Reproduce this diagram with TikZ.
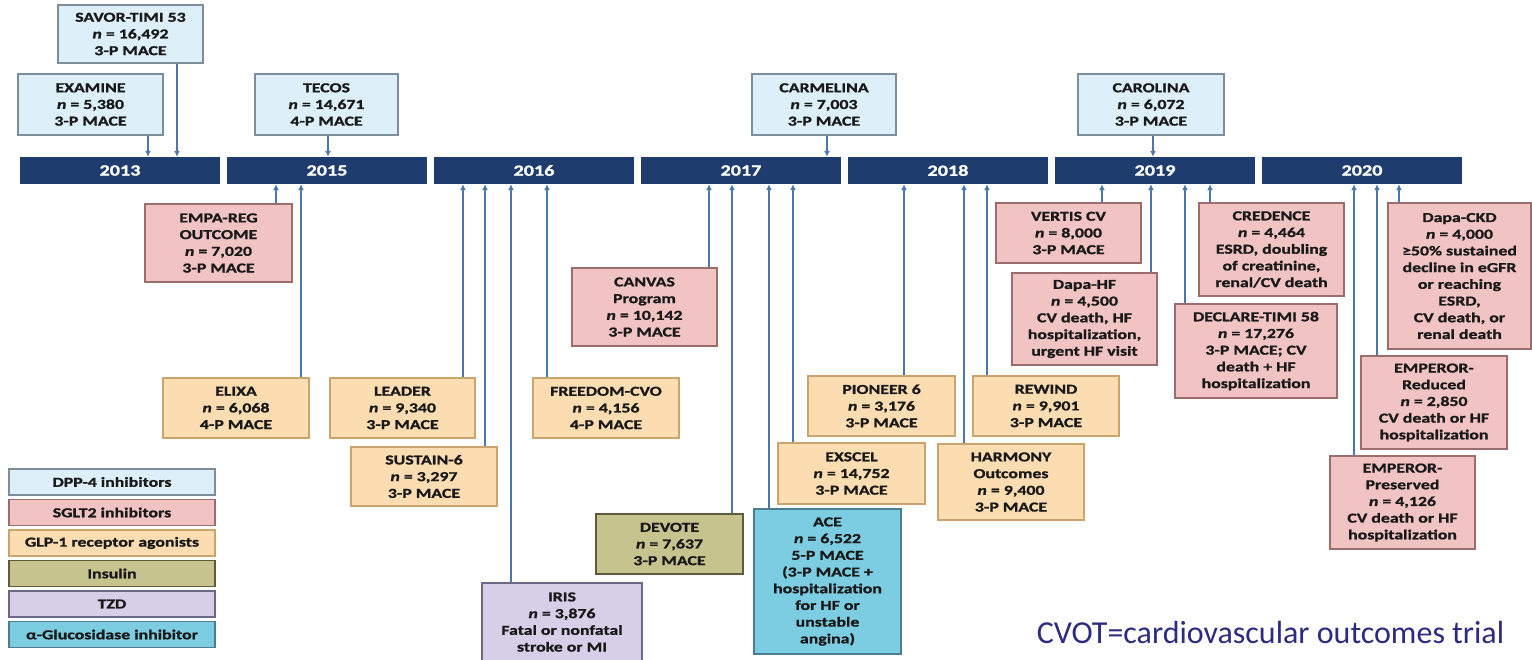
\documentclass[tikz,border=0pt]{standalone}
\usepackage{fontspec}
\setmainfont{Carlito}
\newfontfamily\boxfont{Carlito}[FakeStretch=1.3,FakeBold=1.2]
\usetikzlibrary{arrows.meta,positioning}
\definecolor{dppfill}{HTML}{DDEFF9}
\definecolor{dppline}{HTML}{7D8D9C}
\definecolor{sgltfill}{HTML}{F2C3C3}
\definecolor{sgltline}{HTML}{9A6E6E}
\definecolor{glpfill}{HTML}{FCDDB1}
\definecolor{glpline}{HTML}{C9A46E}
\definecolor{insfill}{HTML}{C7C38F}
\definecolor{insline}{HTML}{5C5B3D}
\definecolor{tzdfill}{HTML}{D7CEE8}
\definecolor{tzdline}{HTML}{6D6885}
\definecolor{agifill}{HTML}{7CCDE2}
\definecolor{agiline}{HTML}{4B7D8E}
\definecolor{navy}{HTML}{1E3C6E}
\definecolor{linkblue}{HTML}{4A78AE}
\definecolor{notetext}{HTML}{2C2B82}
\tikzset{
  trial/.style={rectangle,line width=1.4pt,align=center,inner sep=0pt,text=black!90,font=\boxfont\bfseries\fontsize{13.7}{16.7}\selectfont},
  dpp/.style={trial,draw=dppline,fill=dppfill},
  sglt/.style={trial,draw=sgltline,fill=sgltfill},
  glp/.style={trial,draw=glpline,fill=glpfill},
  insul/.style={trial,draw=insline,fill=insfill},
  tzd/.style={trial,draw=tzdline,fill=tzdfill},
  agi/.style={trial,draw=agiline,fill=agifill},
  yearbar/.style={rectangle,fill=navy,text=white,minimum width=200,minimum height=27,inner sep=0pt,font=\boxfont\bfseries\fontsize{15.5}{18}\selectfont},
  legendrow/.style={minimum width=206,minimum height=26},
  link/.style={-{Latex[length=6pt,width=6pt]},line width=1.6pt,linkblue},
  bignote/.style={font=\fontsize{32}{38}\selectfont,text=notetext,inner sep=0pt}
}
\begin{document}
\begin{tikzpicture}[x=1pt,y=-1pt]
  \useasboundingbox (0,0) rectangle (1532,659);
  % timeline
  \foreach \yr [count=\i from 0] in {2013,2015,2016,2017,2018,2019,2020}
    \node[yearbar] (y\yr) at (120+207*\i,170.5) {\yr};
  % DPP-4 trials above the line
  \node[dpp,minimum width=145,minimum height=58] (savor) at (130.5,34)
    {SAVOR-TIMI 53\\\textit{n} = 16,492\\3-P MACE};
  \node[dpp,minimum width=145,minimum height=61] (examine) at (90.5,104.5)
    {EXAMINE\\\textit{n} = 5,380\\3-P MACE};
  \node[dpp,minimum width=143,minimum height=61] (tecos) at (326.5,104.5)
    {TECOS\\\textit{n} = 14,671\\4-P MACE};
  \node[dpp,minimum width=144,minimum height=61] (carmelina) at (824,104.5)
    {CARMELINA\\\textit{n} = 7,003\\3-P MACE};
  \node[dpp,minimum width=146,minimum height=61] (carolina) at (1151,104.5)
    {CAROLINA\\\textit{n} = 6,072\\3-P MACE};
  % trials below the line
  \node[sglt,minimum width=147,minimum height=78] (empareg) at (218.5,243)
    {EMPA-REG\\OUTCOME\\\textit{n} = 7,020\\3-P MACE};
  \node[glp,minimum width=146,minimum height=60] (elixa) at (236,408)
    {ELIXA\\\textit{n} = 6,068\\4-P MACE};
  \node[glp,minimum width=145,minimum height=60] (leader) at (402.5,408)
    {LEADER\\\textit{n} = 9,340\\3-P MACE};
  \node[glp,minimum width=146,minimum height=59] (sustain) at (424,476.5)
    {SUSTAIN-6\\\textit{n} = 3,297\\3-P MACE};
  \node[tzd,minimum width=160,minimum height=78] (iris) at (562,622)
    {IRIS\\\textit{n} = 3,876\\Fatal or nonfatal\\stroke or MI};
  \node[glp,minimum width=146,minimum height=60] (freedom) at (606,408)
    {FREEDOM-CVO\\\textit{n} = 4,156\\4-P MACE};
  \node[sglt,minimum width=145,minimum height=78] (canvas) at (644.5,307)
    {CANVAS\\Program\\\textit{n} = 10,142\\3-P MACE};
  \node[insul,minimum width=147,minimum height=60] (devote) at (669.5,544)
    {DEVOTE\\\textit{n} = 7,637\\3-P MACE};
  \node[agi,minimum width=147,minimum height=145] (ace) at (827.5,581.5)
    {ACE\\\textit{n} = 6,522\\5-P MACE\\(3-P MACE +\\hospitalization\\for HF or\\unstable\\angina)};
  \node[glp,minimum width=147,minimum height=61] (exscel) at (851.5,473.5)
    {EXSCEL\\\textit{n} = 14,752\\3-P MACE};
  \node[glp,minimum width=147,minimum height=60] (pioneer) at (881.5,406)
    {PIONEER 6\\\textit{n} = 3,176\\3-P MACE};
  \node[glp,minimum width=146,minimum height=76] (harmony) at (1011,482)
    {HARMONY\\Outcomes\\\textit{n} = 9,400\\3-P MACE};
  \node[glp,minimum width=146,minimum height=60] (rewind) at (1046,406)
    {REWIND\\\textit{n} = 9,901\\3-P MACE};
  \node[sglt,minimum width=145,minimum height=60] (vertis) at (1068.5,233)
    {VERTIS CV\\\textit{n} = 8,000\\3-P MACE};
  \node[sglt,minimum width=145,minimum height=92] (dapahf) at (1084.5,319)
    {Dapa-HF\\\textit{n} = 4,500\\CV death, HF\\hospitalization,\\urgent HF visit};
  \node[sglt,minimum width=145,minimum height=93] (credence) at (1271.5,249.5)
    {CREDENCE\\\textit{n} = 4,464\\ESRD, doubling\\of creatinine,\\renal/CV death};
  \node[sglt,minimum width=162,minimum height=94] (declare) at (1256,351)
    {DECLARE-TIMI 58\\\textit{n} = 17,276\\3-P MACE; CV\\death + HF\\hospitalization};
  \node[sglt,minimum width=143,minimum height=146] (dapackd) at (1459.5,276)
    {Dapa-CKD\\\textit{n} = 4,000\\≥50\% sustained\\decline in eGFR\\or reaching\\ESRD,\\CV death, or\\renal death};
  \node[sglt,minimum width=146,minimum height=93] (empred) at (1434,402.5)
    {EMPEROR-\\Reduced\\\textit{n} = 2,850\\CV death or HF\\hospitalization};
  \node[sglt,minimum width=145,minimum height=93] (emppres) at (1402.5,502.5)
    {EMPEROR-\\Preserved\\\textit{n} = 4,126\\CV death or HF\\hospitalization};
  % connectors
  \foreach \trial/\yr/\px in {examine/2013/148,savor/2013/177,tecos/2015/328,carmelina/2017/827,carolina/2019/1153}
    \draw[link] (\px,0 |- \trial.south) -- (\px,0 |- y\yr.north);
  \foreach \trial/\yr/\px in {empareg/2015/276,elixa/2015/301,leader/2016/463,sustain/2016/485,iris/2016/511,freedom/2016/547,
      canvas/2017/709,devote/2017/732,ace/2017/769,exscel/2017/793,pioneer/2018/904,harmony/2018/964,rewind/2018/987,
      vertis/2019/1102,dapahf/2019/1151,declare/2019/1185,credence/2019/1210,emppres/2020/1354,empred/2020/1377,dapackd/2020/1399}
    \draw[link] (\px,0 |- \trial.north) -- (\px,0 |- y\yr.south);
  % legend
  \node[dpp,legendrow] (legdpp) at (112,482) {DPP-4 inhibitors};
  \node[sglt,legendrow] (legsglt) at (112,512.5) {SGLT2 inhibitors};
  \node[glp,legendrow] (legglp) at (112,543) {GLP-1 receptor agonists};
  \node[insul,legendrow] (legins) at (112,573.5) {Insulin};
  \node[tzd,legendrow] (legtzd) at (112,604) {TZD};
  \node[agi,legendrow] (legagi) at (112,634.5) {α-Glucosidase inhibitor};
  \node[bignote,anchor=base] (cvot) at (1270.5,643) {CVOT=cardiovascular outcomes trial};
\end{tikzpicture}
\end{document}
